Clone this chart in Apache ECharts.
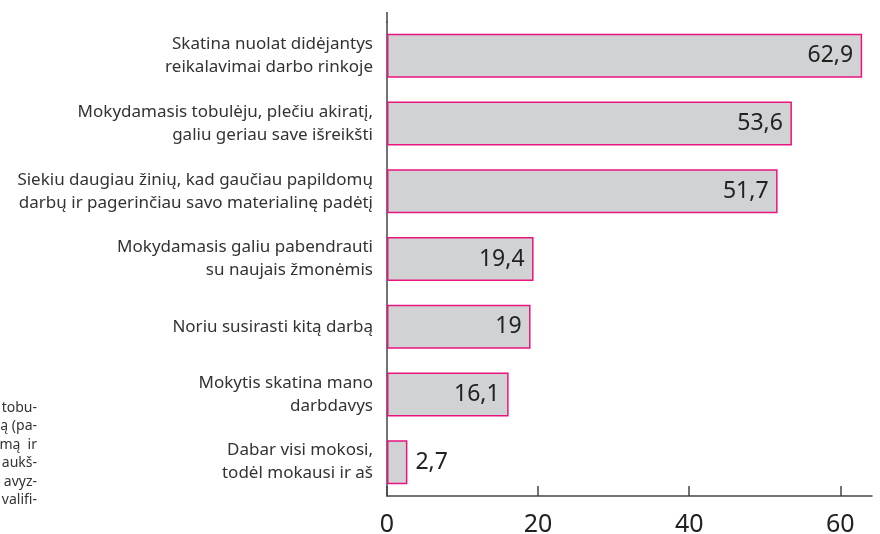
<!DOCTYPE html>
<html>
<head>
<meta charset="utf-8">
<script src="https://cdn.jsdelivr.net/npm/echarts@6/dist/echarts.min.js"></script>
<style>
  html, body { margin: 0; padding: 0; background: #fff; }
  #chart { width: 880px; height: 534px; }
</style>
</head>
<body>
<div id="chart"></div>
<script>
// kategorijos (iš viršaus į apačią)
var categories = [
  'Skatina nuolat didėjantys\nreikalavimai darbo rinkoje',
  'Mokydamasis tobulėju, plečiu akiratį,\ngaliu geriau save išreikšti',
  'Siekiu daugiau žinių, kad gaučiau papildomų\ndarbų ir pagerinčiau savo materialinę padėtį',
  'Mokydamasis galiu pabendrauti\nsu naujais žmonėmis',
  'Noriu susirasti kitą darbą',
  'Mokytis skatina mano\ndarbdavys',
  'Dabar visi mokosi,\ntodėl mokausi ir aš'
];
var values = [62.9, 53.6, 51.7, 19.4, 19, 16.1, 2.7];
var xTicks = [0, 20, 40, 60];
// nukirptas kairės pusės tekstas
var sideText = ['tobu-', 'ą (pa-', 'mą  ir', 'aukš-', 'avyz-', 'valifi-'];

var myChart = echarts.init(document.getElementById('chart'));

var fmt = function (v) { return String(v).replace('.', ','); };

var barData = values.map(function (v) {
  var small = v < 10;
  return {
    value: v,
    label: {
      position: small ? 'right' : 'insideRight',
      distance: small ? 8 : 9
    }
  };
});

var sideGraphics = sideText.map(function (t, i) {
  return {
    type: 'text',
    style: {
      x: 37, y: 408 + i * 18.5,
      text: t, font: '14px "Noto Sans"', fill: '#333',
      textAlign: 'right', textVerticalAlign: 'middle'
    }
  };
});

var option = {
  animation: false,
  backgroundColor: '#fff',
  grid: { left: 387, right: 8, top: 22, bottom: 38, outerBoundsMode: 'none' },
  xAxis: {
    type: 'value',
    min: 0,
    max: 64.2,
    interval: 20,
    splitLine: { show: false },
    axisLine: { show: true, lineStyle: { color: '#444', width: 1.5 } },
    axisTick: {
      show: true, inside: true, length: 10,
      customValues: xTicks,
      lineStyle: { color: '#444', width: 1.5 }
    },
    axisLabel: {
      color: '#222', fontSize: 25, fontFamily: 'Noto Sans', margin: 16,
      customValues: xTicks
    }
  },
  yAxis: {
    type: 'category',
    inverse: true,
    data: categories,
    axisLine: { show: true, lineStyle: { color: '#444', width: 1.5 } },
    axisTick: { show: false },
    axisLabel: {
      color: '#333', fontSize: 17, fontFamily: 'Noto Sans', margin: 14,
      lineHeight: 23, align: 'right'
    }
  },
  series: [{
    type: 'bar',
    data: barData,
    barWidth: 44,
    itemStyle: { color: '#d1d2d4', borderColor: '#e8157f', borderWidth: 1.5 },
    label: {
      show: true,
      color: '#222',
      fontSize: 23,
      fontFamily: 'Noto Sans',
      formatter: function (p) { return fmt(p.value); }
    }
  }],
  graphic: [{
    type: 'line',
    shape: { x1: 387, y1: 12, x2: 387, y2: 23 },
    style: { stroke: '#444', lineWidth: 1.5 }
  }].concat(sideGraphics)
};

myChart.setOption(option);
</script>
</body>
</html>
